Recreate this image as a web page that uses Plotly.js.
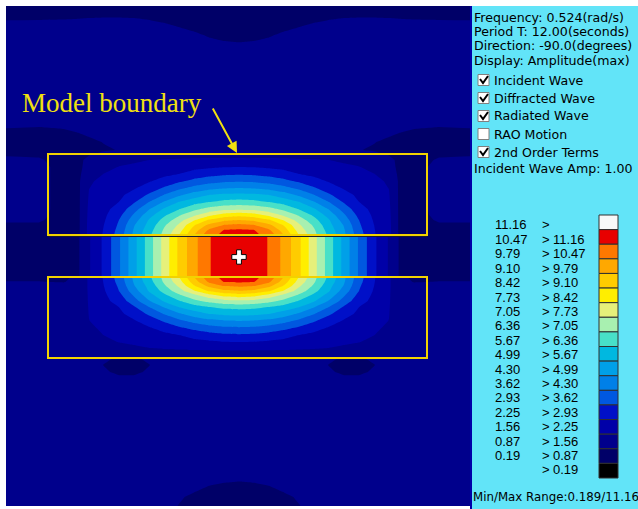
<!DOCTYPE html>
<html><head><meta charset="utf-8">
<script src="https://cdn.plot.ly/plotly-3.0.1.min.js"></script>
<style>html,body{margin:0;padding:0;background:#fff;} #c{width:638px;height:509px;}</style>
</head><body><div id="c"></div>
<script>
// ---- data ----
const xCols = [-233,-200,-175,-160,-150,-135,-120,-105,-90,-75,-60,-45,-30,-15,0,15,30,45,60,75,90,105,120,135,150,160,175,200,231];
const yRows = [251,245,238,229,222,214,190,160,135,125,115,107,102,97,90,83,76,69,62,55,48,42,37,32,27,22,21,0,-19,-20,-25,-29,-34,-38,-44,-50,-57,-64,-71,-78,-85,-91,-97,-102,-108,-115,-124,-160,-200,-220,-229,-240,-249];
const zRows = [
[0.6,0.6,0.6,0.6,0.6,0.6,0.6,0.6,0.55,0.55,0.5,0.5,0.5,0.5,0.5,0.5,0.5,0.5,0.5,0.55,0.55,0.6,0.6,0.6,0.6,0.6,0.6,0.6,0.6],
[0.7,0.7,0.7,0.7,0.7,0.7,0.7,0.7,0.65,0.6,0.55,0.55,0.5,0.5,0.5,0.5,0.5,0.55,0.55,0.6,0.65,0.7,0.7,0.7,0.7,0.7,0.7,0.7,0.7],
[0.84,0.85,0.86,0.88,0.9,0.92,0.92,0.9,0.85,0.75,0.65,0.6,0.55,0.5,0.5,0.5,0.55,0.6,0.65,0.75,0.85,0.9,0.92,0.92,0.9,0.88,0.86,0.85,0.84],
[1.1,1.1,1.15,1.15,1.15,1.15,1.15,1.15,1.1,1.05,0.9,0.75,0.6,0.55,0.55,0.55,0.6,0.75,0.9,1.05,1.1,1.15,1.15,1.15,1.15,1.15,1.15,1.1,1.1],
[1.2,1.2,1.2,1.2,1.2,1.2,1.2,1.2,1.2,1.2,1.15,1.0,0.8,0.65,0.6,0.65,0.8,1.0,1.15,1.2,1.2,1.2,1.2,1.2,1.2,1.2,1.2,1.2,1.2],
[1.2,1.2,1.2,1.2,1.2,1.2,1.2,1.2,1.2,1.2,1.2,1.15,1.05,0.95,0.9,0.95,1.05,1.15,1.2,1.2,1.2,1.2,1.2,1.2,1.2,1.2,1.2,1.2,1.2],
[1.2,1.2,1.2,1.2,1.2,1.2,1.2,1.2,1.2,1.2,1.2,1.2,1.2,1.2,1.2,1.2,1.2,1.2,1.2,1.2,1.2,1.2,1.2,1.2,1.2,1.2,1.2,1.2,1.2],
[1.2,1.2,1.2,1.2,1.2,1.2,1.2,1.2,1.2,1.2,1.2,1.2,1.2,1.2,1.2,1.2,1.2,1.2,1.2,1.2,1.2,1.2,1.2,1.2,1.2,1.2,1.2,1.2,1.2],
[1.0,1.0,1.05,1.1,1.15,1.2,1.2,1.2,1.2,1.2,1.2,1.2,1.2,1.2,1.2,1.2,1.2,1.2,1.2,1.2,1.2,1.2,1.2,1.2,1.15,1.1,1.05,1.0,1.0],
[0.8,0.75,0.8,0.9,1.0,1.1,1.15,1.2,1.2,1.2,1.2,1.2,1.2,1.2,1.2,1.2,1.2,1.2,1.2,1.2,1.2,1.2,1.15,1.1,1.0,0.9,0.8,0.75,0.8],
[0.7,0.6,0.6,0.65,0.75,0.9,1.05,1.15,1.2,1.2,1.2,1.2,1.2,1.2,1.2,1.2,1.2,1.2,1.2,1.2,1.2,1.15,1.05,0.9,0.75,0.65,0.6,0.6,0.7],
[0.75,0.6,0.6,0.6,0.7,0.8,0.9,1.1,1.2,1.2,1.2,1.2,1.2,1.2,1.2,1.2,1.2,1.2,1.2,1.2,1.2,1.1,0.9,0.8,0.7,0.6,0.6,0.6,0.75],
[0.85,0.8,0.6,0.65,0.85,1.1,1.25,1.3,1.3,1.35,1.35,1.35,1.35,1.35,1.35,1.35,1.35,1.35,1.35,1.35,1.3,1.3,1.25,1.1,0.85,0.65,0.6,0.8,0.85],
[0.95,0.95,0.6,0.7,1.1,1.25,1.35,1.45,1.56,1.6,1.63,1.67,1.69,1.68,1.71,1.68,1.69,1.67,1.63,1.6,1.56,1.45,1.35,1.25,1.1,0.7,0.6,0.95,0.95],
[1.1,1.1,0.6,0.7,1.2,1.4,1.58,1.68,1.77,1.85,1.94,2.05,2.14,2.22,2.25,2.22,2.14,2.05,1.94,1.85,1.77,1.68,1.58,1.4,1.2,0.7,0.6,1.1,1.1],
[1.1,1.1,0.6,0.75,1.35,1.57,1.71,1.85,1.97,2.1,2.25,2.51,2.69,2.81,2.85,2.81,2.69,2.51,2.25,2.1,1.97,1.85,1.71,1.57,1.35,0.75,0.6,1.1,1.1],
[1.1,1.1,0.6,0.8,1.5,1.67,1.85,2.01,2.18,2.47,2.81,3.11,3.34,3.48,3.52,3.48,3.34,3.11,2.81,2.47,2.18,2.01,1.85,1.67,1.5,0.8,0.6,1.1,1.1],
[1.1,1.1,0.6,0.8,1.55,1.76,1.98,2.18,2.55,3.0,3.45,3.82,4.09,4.24,4.3,4.24,4.09,3.82,3.45,3.0,2.55,2.18,1.98,1.76,1.55,0.8,0.6,1.1,1.1],
[1.1,1.1,0.6,0.8,1.6,1.87,2.12,2.47,3.04,3.64,4.18,4.64,4.99,5.14,5.18,5.14,4.99,4.64,4.18,3.64,3.04,2.47,2.12,1.87,1.6,0.8,0.6,1.1,1.1],
[1.1,1.1,0.6,0.8,1.64,1.96,2.25,2.86,3.62,4.35,5.01,5.4,5.66,5.87,5.95,5.87,5.66,5.4,5.01,4.35,3.62,2.86,2.25,1.96,1.64,0.8,0.6,1.1,1.1],
[1.1,1.1,0.6,0.8,1.68,2.05,2.52,3.33,4.25,5.07,5.63,6.18,6.58,6.83,6.91,6.83,6.58,6.18,5.63,5.07,4.25,3.33,2.52,2.05,1.68,0.8,0.6,1.1,1.1],
[1.05,1.05,0.6,0.8,1.71,2.12,2.74,3.71,4.72,5.54,6.27,6.9,7.54,8.02,8.19,8.02,7.54,6.9,6.27,5.54,4.72,3.71,2.74,2.12,1.71,0.8,0.6,1.05,1.05],
[0.95,0.95,0.6,0.8,1.73,2.18,2.93,3.98,5.04,5.9,6.75,7.65,8.5,8.95,9.1,8.95,8.5,7.65,6.75,5.9,5.04,3.98,2.93,2.18,1.73,0.8,0.6,0.95,0.95],
[0.8,0.8,0.6,0.8,1.75,2.25,3.03,4.25,5.2,6.24,7.15,8.35,9.27,9.81,9.96,9.81,9.27,8.35,7.15,6.24,5.2,4.25,3.03,2.25,1.75,0.8,0.6,0.8,0.8],
[0.65,0.65,0.6,0.8,1.76,2.28,3.14,4.37,5.37,6.44,7.44,8.74,9.89,10.49,10.56,10.49,9.89,8.74,7.44,6.44,5.37,4.37,3.14,2.28,1.76,0.8,0.6,0.65,0.65],
[0.6,0.6,0.6,0.8,1.77,2.31,3.24,4.45,5.53,6.57,7.73,9.1,10.27,10.62,10.8,10.62,10.27,9.1,7.73,6.57,5.53,4.45,3.24,2.31,1.77,0.8,0.6,0.6,0.6],
[0.6,0.55,0.6,0.85,1.49,2.39,3.53,4.76,6.02,7.28,8.56,9.58,10.42,10.9,11.0,10.9,10.42,9.58,8.56,7.28,6.02,4.76,3.53,2.39,1.49,0.85,0.6,0.55,0.6],
[0.6,0.55,0.6,0.85,1.49,2.39,3.53,4.76,6.02,7.28,8.56,9.58,10.42,10.9,11.0,10.9,10.42,9.58,8.56,7.28,6.02,4.76,3.53,2.39,1.49,0.85,0.6,0.55,0.6],
[0.6,0.55,0.6,0.85,1.49,2.39,3.53,4.76,6.02,7.28,8.56,9.58,10.42,10.9,11.0,10.9,10.42,9.58,8.56,7.28,6.02,4.76,3.53,2.39,1.49,0.85,0.6,0.55,0.6],
[0.75,0.75,0.7,1.1,1.65,2.31,3.24,4.45,5.53,6.57,7.73,9.1,10.27,10.62,10.8,10.62,10.27,9.1,7.73,6.57,5.53,4.45,3.24,2.31,1.65,1.1,0.7,0.75,0.75],
[0.9,0.9,0.85,1.1,1.65,2.28,3.14,4.37,5.37,6.44,7.44,8.74,9.89,10.49,10.56,10.49,9.89,8.74,7.44,6.44,5.37,4.37,3.14,2.28,1.65,1.1,0.85,0.9,0.9],
[1.15,1.15,1.1,1.1,1.65,2.25,3.03,4.25,5.2,6.24,7.15,8.35,9.27,9.81,9.96,9.81,9.27,8.35,7.15,6.24,5.2,4.25,3.03,2.25,1.65,1.1,1.1,1.15,1.15],
[1.15,1.15,1.1,1.1,1.64,2.18,2.93,3.98,5.04,5.9,6.75,7.65,8.5,8.95,9.1,8.95,8.5,7.65,6.75,5.9,5.04,3.98,2.93,2.18,1.64,1.1,1.1,1.15,1.15],
[1.15,1.15,1.1,1.1,1.63,2.12,2.74,3.71,4.72,5.54,6.27,6.9,7.54,8.02,8.19,8.02,7.54,6.9,6.27,5.54,4.72,3.71,2.74,2.12,1.63,1.1,1.1,1.15,1.15],
[1.15,1.15,1.1,1.1,1.62,2.05,2.52,3.33,4.25,5.07,5.63,6.18,6.58,6.83,6.91,6.83,6.58,6.18,5.63,5.07,4.25,3.33,2.52,2.05,1.62,1.1,1.1,1.15,1.15],
[1.15,1.15,1.1,1.1,1.6,1.96,2.25,2.86,3.62,4.35,5.01,5.4,5.66,5.87,5.95,5.87,5.66,5.4,5.01,4.35,3.62,2.86,2.25,1.96,1.6,1.1,1.1,1.15,1.15],
[1.15,1.15,1.1,1.1,1.58,1.87,2.12,2.47,3.04,3.64,4.18,4.64,4.99,5.14,5.18,5.14,4.99,4.64,4.18,3.64,3.04,2.47,2.12,1.87,1.58,1.1,1.1,1.15,1.15],
[1.15,1.15,1.1,1.1,1.55,1.76,1.98,2.18,2.55,3.0,3.45,3.82,4.09,4.24,4.3,4.24,4.09,3.82,3.45,3.0,2.55,2.18,1.98,1.76,1.55,1.1,1.1,1.15,1.15],
[1.15,1.15,1.1,1.1,1.45,1.67,1.85,2.01,2.18,2.47,2.81,3.11,3.34,3.48,3.52,3.48,3.34,3.11,2.81,2.47,2.18,2.01,1.85,1.67,1.45,1.1,1.1,1.15,1.15],
[1.15,1.15,1.1,1.1,1.35,1.57,1.71,1.85,1.97,2.1,2.25,2.51,2.69,2.81,2.85,2.81,2.69,2.51,2.25,2.1,1.97,1.85,1.71,1.57,1.35,1.1,1.1,1.15,1.15],
[1.15,1.15,1.1,1.1,1.25,1.4,1.58,1.68,1.77,1.85,1.94,2.05,2.14,2.22,2.25,2.22,2.14,2.05,1.94,1.85,1.77,1.68,1.58,1.4,1.25,1.1,1.1,1.15,1.15],
[1.15,1.15,1.1,1.1,1.2,1.25,1.35,1.45,1.56,1.6,1.63,1.67,1.69,1.68,1.71,1.68,1.69,1.67,1.63,1.6,1.56,1.45,1.35,1.25,1.2,1.1,1.1,1.15,1.15],
[1.15,1.15,1.1,1.1,1.15,1.2,1.25,1.3,1.3,1.35,1.35,1.35,1.35,1.35,1.35,1.35,1.35,1.35,1.35,1.35,1.3,1.3,1.25,1.2,1.15,1.1,1.1,1.15,1.15],
[1.2,1.2,1.2,1.2,1.2,1.0,0.75,0.75,1.0,1.2,1.2,1.2,1.2,1.2,1.2,1.2,1.2,1.2,1.2,1.2,1.0,0.75,0.75,1.0,1.2,1.2,1.2,1.2,1.2],
[1.2,1.2,1.2,1.2,1.2,0.85,0.6,0.6,0.85,1.2,1.2,1.2,1.2,1.2,1.2,1.2,1.2,1.2,1.2,1.2,0.85,0.6,0.6,0.85,1.2,1.2,1.2,1.2,1.2],
[1.2,1.2,1.2,1.2,1.2,1.0,0.7,0.7,1.0,1.2,1.2,1.2,1.2,1.2,1.2,1.2,1.2,1.2,1.2,1.2,1.0,0.7,0.7,1.0,1.2,1.2,1.2,1.2,1.2],
[1.2,1.2,1.2,1.2,1.2,1.2,1.2,1.2,1.2,1.2,1.2,1.2,1.2,1.2,1.2,1.2,1.2,1.2,1.2,1.2,1.2,1.2,1.2,1.2,1.2,1.2,1.2,1.2,1.2],
[1.2,1.2,1.2,1.2,1.2,1.2,1.2,1.2,1.2,1.2,1.2,1.2,1.2,1.2,1.2,1.2,1.2,1.2,1.2,1.2,1.2,1.2,1.2,1.2,1.2,1.2,1.2,1.2,1.2],
[1.2,1.2,1.2,1.2,1.2,1.2,1.2,1.2,1.2,1.2,1.2,1.2,1.2,1.2,1.2,1.2,1.2,1.2,1.2,1.2,1.2,1.2,1.2,1.2,1.2,1.2,1.2,1.2,1.2],
[1.2,1.2,1.2,1.2,1.2,1.2,1.2,1.2,1.2,1.2,1.2,1.2,1.15,1.05,1.0,1.05,1.15,1.2,1.2,1.2,1.2,1.2,1.2,1.2,1.2,1.2,1.2,1.2,1.2],
[1.2,1.2,1.2,1.2,1.2,1.2,1.2,1.2,1.2,1.2,1.15,1.05,0.87,0.78,0.75,0.78,0.87,1.05,1.15,1.2,1.2,1.2,1.2,1.2,1.2,1.2,1.2,1.2,1.2],
[1.2,1.2,1.2,1.2,1.2,1.2,1.2,1.2,1.2,1.15,0.95,0.75,0.65,0.6,0.6,0.6,0.65,0.75,0.95,1.15,1.2,1.2,1.2,1.2,1.2,1.2,1.2,1.2,1.2],
[1.2,1.2,1.2,1.2,1.2,1.2,1.2,1.2,1.2,1.1,0.85,0.7,0.6,0.55,0.55,0.55,0.6,0.7,0.85,1.1,1.2,1.2,1.2,1.2,1.2,1.2,1.2,1.2,1.2]
];
const peakX = [0];
const peakY = [0];
const levelStart = 0.189;
const levelEnd = 11.16;
const levelLabels = ['0.19','0.87','1.56','2.25','2.93','3.62','4.30','4.99','5.67','6.36','7.05','7.73','8.42','9.10','9.79','10.47','11.16'];
const bandColors = ['#000000','#000068','#00008c','#0000a8','#0010c8','#0058e0','#0080e8','#00a0e8','#00b8e0','#48e0c8','#a8f0b0','#e6f07a','#ffee00','#ffcc00','#ffa800','#ff7800','#e80000','#f8f8f8'];
const infoLines = ['Frequency: 0.524(rad/s)','Period T: 12.00(seconds)','Direction: -90.0(degrees)','Display: Amplitude(max)'];
const checkLabels = ['Incident Wave','Diffracted Wave','Radiated Wave','RAO Motion','2nd Order Terms'];
const checkStates = [true,true,true,false,true];
const ampLine = 'Incident Wave Amp: 1.00';
const rangeLine = 'Min/Max Range:0.189/11.16';

// ---- layout helpers (pixel -> paper) ----
const ML = 6, MT = 6, PW = 464, PH = 500;
const PX = p => (p - ML) / PW;
const PY = p => (MT + PH - p) / PH;

const nBands = bandColors.length; // 18
const colorscale = bandColors.map((c, i) => [i / (nBands - 1), c]);
const step = (levelEnd - levelStart) / (levelLabels.length - 1);

const traces = [
  {
    type: 'contour',
    x: xCols,
    y: yRows.slice().reverse(),
    z: zRows.slice().reverse(),
    colorscale: colorscale,
    contours: {start: levelStart, end: levelEnd, size: step, coloring: 'fill', showlines: false},
    line: {width: 0, smoothing: 0},
    showscale: false,
    hoverinfo: 'skip'
  },
  {
    type: 'scatter', mode: 'markers', x: peakX, y: peakY,
    marker: {symbol: 'cross', size: 12, color: '#ffffff', line: {color: '#000000', width: 1}},
    hoverinfo: 'skip', showlegend: false
  }
];

const shapes = [];
const annotations = [];
const panelFont = {family: 'DejaVu Sans, Verdana, sans-serif', size: 12.6, color: '#000000'};
const narrowFont = {family: 'Liberation Sans Narrow, Arial Narrow, Liberation Sans, sans-serif', size: 13, color: '#000000'};

// white outer margins
shapes.push({type:'rect', xref:'paper', yref:'paper', x0:PX(0), x1:PX(638), y0:PY(6), y1:PY(0), fillcolor:'#ffffff', line:{width:0}});
shapes.push({type:'rect', xref:'paper', yref:'paper', x0:PX(0), x1:PX(6), y0:PY(509), y1:PY(0), fillcolor:'#ffffff', line:{width:0}});
shapes.push({type:'rect', xref:'paper', yref:'paper', x0:PX(0), x1:PX(471), y0:PY(509), y1:PY(506), fillcolor:'#ffffff', line:{width:0}});
// divider
shapes.push({type:'line', xref:'paper', yref:'paper', x0:PX(471), x1:PX(471), y0:PY(509), y1:PY(6), line:{color:'#0000a8', width:2}});

// thin dark seam under the upper boundary
shapes.push({type:'line', xref:'x', yref:'y', x0:-191, x1:188, y0:20.5, y1:20.5, line:{color:'#1a1a2a', width:1}});
// model boundary boxes
shapes.push({type:'rect', xref:'x', yref:'y', x0:-191, x1:188, y0:22, y1:103, line:{color:'#f2d200', width:2}, fillcolor:'rgba(0,0,0,0)'});
shapes.push({type:'rect', xref:'x', yref:'y', x0:-191, x1:188, y0:-101, y1:-20, line:{color:'#f2d200', width:2}, fillcolor:'rgba(0,0,0,0)'});

annotations.push({xref:'paper', yref:'paper', x:PX(20), y:PY(103), xanchor:'left', yanchor:'middle', showarrow:false,
  text:'Model boundary', font:{family:'Liberation Serif, Times New Roman, serif', size:27, color:'#f0e010'}});
annotations.push({xref:'x', yref:'y', x:-2, y:104, ax:-25, ay:-46, text:'', showarrow:true, arrowhead:2, arrowsize:1.1, arrowwidth:2, arrowcolor:'#f0e010', standoff:0});

// info lines
infoLines.forEach((t, i) => annotations.push({xref:'paper', yref:'paper', x:PX(472), y:PY(17 + 14.4 * i), xanchor:'left', yanchor:'middle', showarrow:false, text:t, font:panelFont}));
// check boxes
checkLabels.forEach((t, i) => {
  const cy = 80 + 18 * i;
  shapes.push({type:'rect', xref:'paper', yref:'paper', x0:PX(478), x1:PX(489), y0:PY(cy + 5.5), y1:PY(cy - 5.5), fillcolor:'#ffffff', line:{color:'#808080', width:1}});
  if (checkStates[i]) {
    shapes.push({type:'path', xref:'paper', yref:'paper',
      path:`M ${PX(480)} ${PY(cy - 1)} L ${PX(483)} ${PY(cy + 3)} L ${PX(488)} ${PY(cy - 4)}`,
      line:{color:'#000000', width:2}});
  }
  annotations.push({xref:'paper', yref:'paper', x:PX(492), y:PY(cy), xanchor:'left', yanchor:'middle', showarrow:false, text:t, font:panelFont});
});
annotations.push({xref:'paper', yref:'paper', x:PX(472), y:PY(169), xanchor:'left', yanchor:'middle', showarrow:false, text:ampLine, font:panelFont});

// colour legend
const nRows = nBands;
for (let i = 0; i < nRows; i++) {
  const k = nRows - 1 - i; // band index (top = highest)
  const cy = 225 + 14.4 * i;
  const lower = k >= 1 ? levelLabels[k - 1] : '';
  const upper = k <= levelLabels.length - 1 ? levelLabels[k] : '';
  if (lower) annotations.push({xref:'paper', yref:'paper', x:PX(493), y:PY(cy), xanchor:'left', yanchor:'middle', showarrow:false, text:lower, font:narrowFont});
  annotations.push({xref:'paper', yref:'paper', x:PX(540), y:PY(cy), xanchor:'left', yanchor:'middle', showarrow:false, text:'&gt;', font:narrowFont});
  if (upper) annotations.push({xref:'paper', yref:'paper', x:PX(551), y:PY(cy), xanchor:'left', yanchor:'middle', showarrow:false, text:upper, font:narrowFont});
  const top = 215 + i * (263 / nRows);
  shapes.push({type:'rect', xref:'paper', yref:'paper', x0:PX(599), x1:PX(618), y0:PY(top + 263 / nRows), y1:PY(top), fillcolor:bandColors[k], line:{color:'#303030', width:1}});
}
annotations.push({xref:'paper', yref:'paper', x:PX(471), y:PY(497), xanchor:'left', yanchor:'middle', showarrow:false, text:rangeLine,
  font:{family:'DejaVu Sans, Verdana, sans-serif', size:11.8, color:'#000000'}});

const layout = {
  width: 638, height: 509,
  margin: {l: ML, r: 638 - ML - PW, t: MT, b: 509 - MT - PH, pad: 0},
  paper_bgcolor: '#62e4f8',
  plot_bgcolor: '#00008c',
  showlegend: false,
  xaxis: {range: [-233, 231], visible: false, fixedrange: true},
  yaxis: {range: [-249, 251], visible: false, fixedrange: true},
  shapes: shapes,
  annotations: annotations
};
Plotly.newPlot('c', traces, layout, {displayModeBar: false, staticPlot: true});
</script></body></html>
